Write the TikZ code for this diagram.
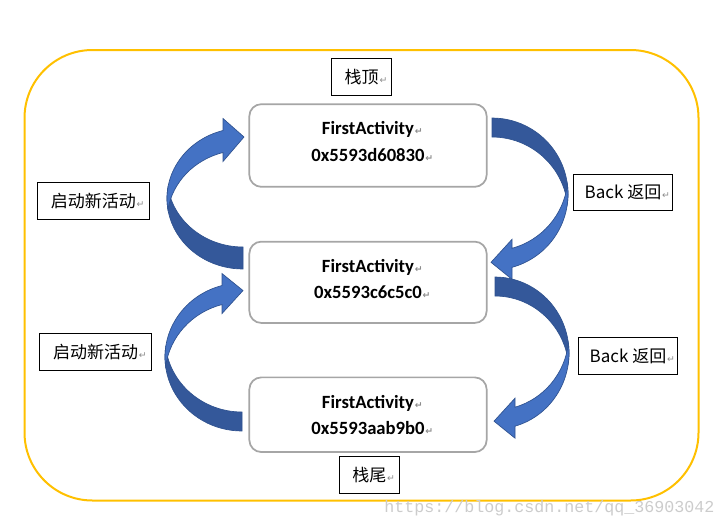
\documentclass[tikz,border=0pt]{standalone}
\usepackage{fontspec}
\setmainfont{Carlito}
\newfontfamily\cjk{Noto Sans CJK SC}
\newfontfamily\retfont{DejaVu Sans}
\newfontfamily\wmfont{Liberation Mono}

\definecolor{frameyellow}{HTML}{FFC000}
\definecolor{boxgray}{HTML}{A6A6A6}
\definecolor{frontblue}{HTML}{4472C4}
\definecolor{backblue}{HTML}{34589A}
\definecolor{edgeblue}{HTML}{2F528F}

\newcommand{\pmark}{\rlap{\kern0.6pt{\retfont\fontsize{7}{7}\selectfont\color{black!45}↵}}}

% cx, cy, rx, ry, thickness, rotation
\newcommand{\bentarrow}[6]{%
  \begin{scope}[shift={(#1,#2)}, rotate=#6]
    \pgfmathsetmacro{\angA}{asin(#5/(2*#4))}
    \pgfmathsetmacro{\angB}{180+acos(20/#3)}
    \pgfmathsetmacro{\vOut}{#4*sin(\angB)}
    \pgfmathsetmacro{\vIn}{\vOut+#5}
    \pgfmathsetmacro{\vTip}{\vOut+#5/2-4.5}
    \filldraw[arrowback] (0,#4)
      arc[start angle=90, end angle={180+\angA}, x radius=#3, y radius=#4]
      arc[start angle={180-\angA}, end angle=90, x radius=#3, y radius=#4]
      -- cycle;
    \filldraw[arrowfront] (-20,\vOut)
      arc[start angle=\angB, end angle={180-\angA}, x radius=#3, y radius=#4]
      arc[start angle={180+\angA}, end angle=\angB, x radius=#3, y radius=#4]
      -- (-20,\vIn+9) -- (1,\vTip) -- (-20,\vOut-12) -- cycle;
  \end{scope}}

\tikzset{
  arrowback/.style={fill=backblue, draw=edgeblue, line width=0.5pt},
  arrowfront/.style={fill=frontblue, draw=edgeblue, line width=0.5pt},
  actbox/.style={draw=boxgray, line width=1.3pt, rounded corners=9pt, fill=white,
    minimum width=178pt, inner sep=0pt},
  acttext/.style={inner sep=0pt, align=center,
    font=\fontsize{14}{19.6}\selectfont\bfseries},
  labelbox/.style={draw=black, line width=0.7pt, fill=white, inner sep=0pt,
    minimum height=27.6pt, font=\cjk\fontsize{12.75}{15}\selectfont},
}

\begin{document}
\begin{tikzpicture}[x=0.75pt, y=-0.75pt]
  \useasboundingbox (0,0) rectangle (727,529);
  \draw[frameyellow, line width=1.5pt, rounded corners=51pt] (24.5,50) rectangle (698.5,500.5);

  % curved arrows
  \bentarrow{243}{198.5}{76}{70.5}{22}{0}
  \bentarrow{242}{357}{77}{74}{19}{0}
  \bentarrow{492}{194}{76}{76}{19}{180}
  \bentarrow{495}{353}{74}{76}{19}{180}

  % activities on the stack
  \node[actbox, minimum height=62pt] (act1) at (368,145.5) {};
  \node[actbox, minimum height=61pt] (act2) at (368,282.3) {};
  \node[actbox, minimum height=56pt] (act3) at (368,414.7) {};
  \node[acttext] (txt1) at (368,141.5) {FirstActivity\pmark\\0x5593d60830\pmark};
  \node[acttext] (txt2) at (368,279) {FirstActivity\pmark\\0x5593c6c5c0\pmark};
  \node[acttext] (txt3) at (368,415) {FirstActivity\pmark\\0x5593aab9b0\pmark};

  % labels
  \node[labelbox, minimum width=45pt] (top) at (361.7,77.3) {栈顶\pmark};
  \node[labelbox, minimum width=45pt] (bottom) at (369.3,475) {栈尾\pmark};
  \node[labelbox, minimum width=84pt] (start1) at (93.3,201) {启动新活动\pmark};
  \node[labelbox, minimum width=84pt] (start2) at (95.5,351.8) {启动新活动\pmark};
  \node[labelbox, minimum width=74.5pt] (back1) at (623,192.5) {Back 返回\pmark};
  \node[labelbox, minimum width=74.5pt] (back2) at (628,355.8) {Back 返回\pmark};

  \node[text=black!20, font=\wmfont\fontsize{12.5}{14}\selectfont] (mark) at (549.5,508.5) {https://blog.csdn.net/qq\_36903042};
\end{tikzpicture}
\end{document}
